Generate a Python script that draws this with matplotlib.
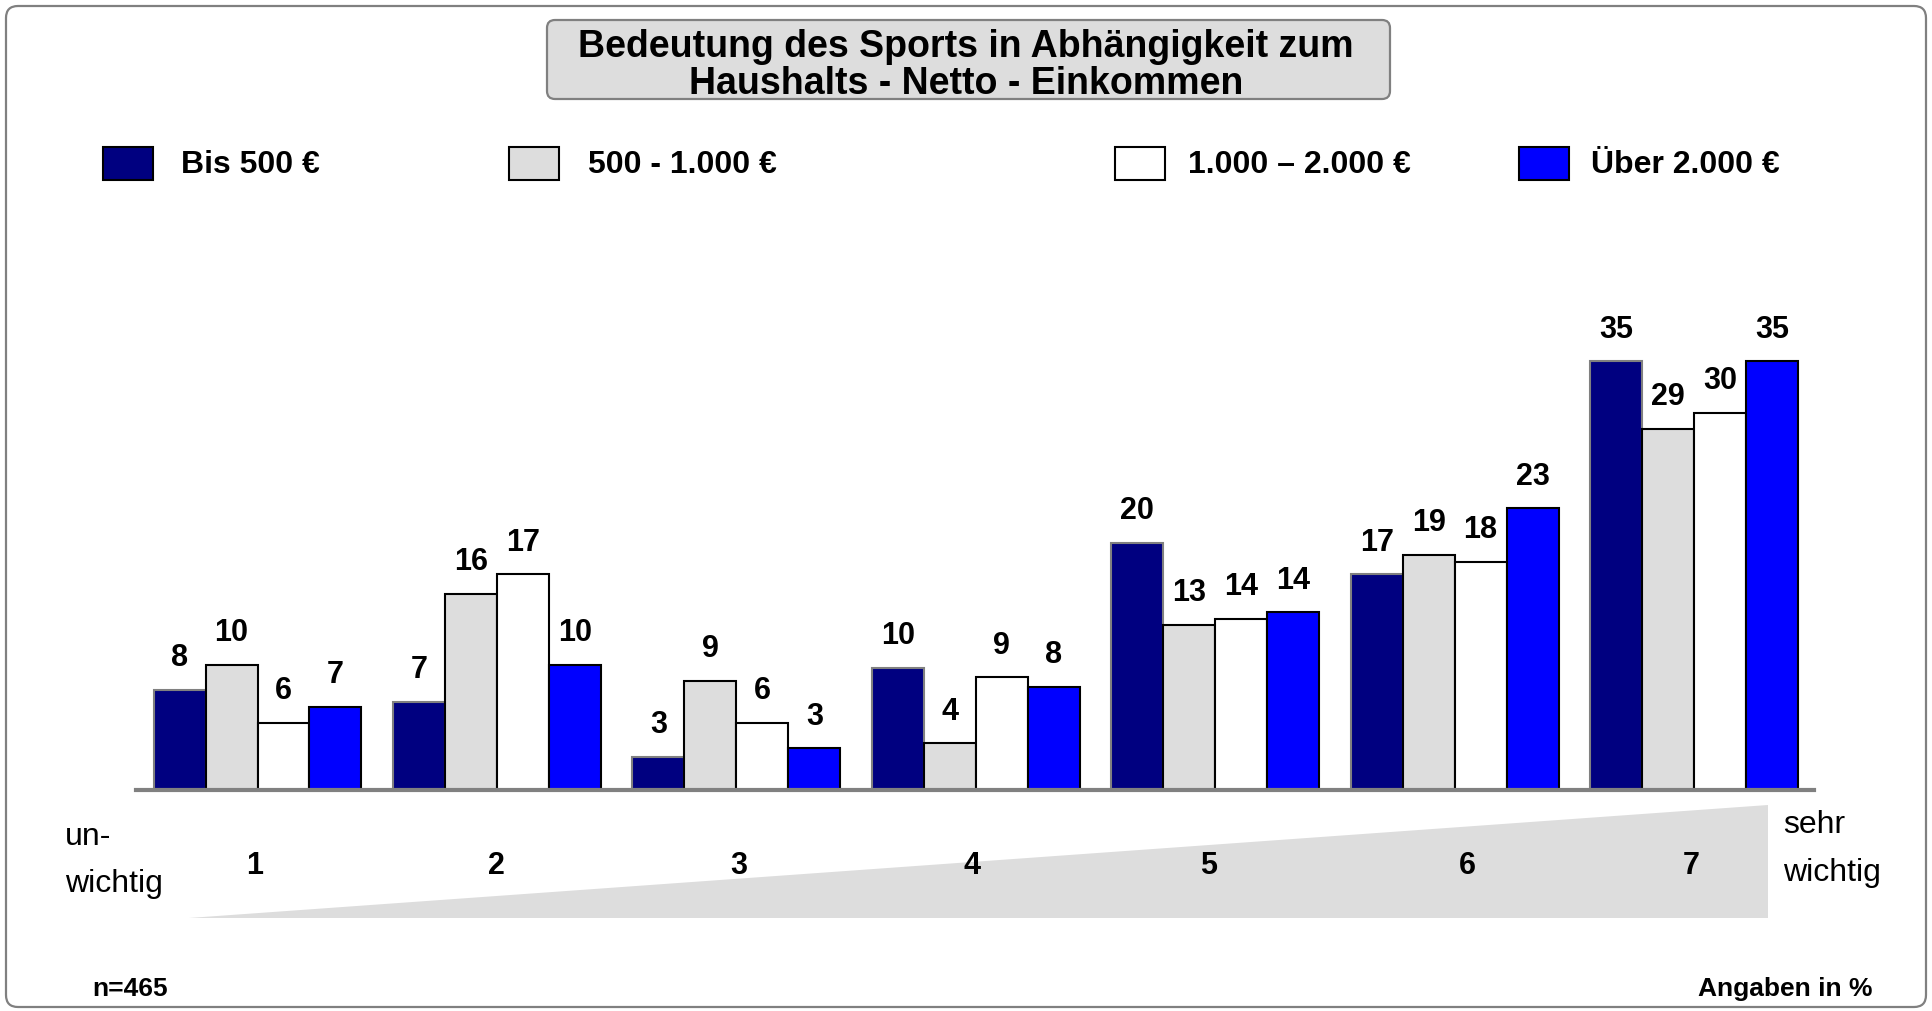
import numpy as np
import matplotlib
matplotlib.use("Agg")
import matplotlib.pyplot as plt
from matplotlib.patches import FancyBboxPatch, Rectangle, Polygon
from matplotlib.transforms import IdentityTransform

plt.rcParams['font.family'] = ['Liberation Sans', 'DejaVu Sans']

# data
categories = ['1', '2', '3', '4', '5', '6', '7']
series_names = ['Bis 500 €', '500 - 1.000 €', '1.000 – 2.000 €', 'Über 2.000 €']
bis_500 = [8.2, 7.2, 2.7, 10.0, 20.2, 17.6, 35.0]
bis_1000 = [10.2, 16.0, 8.9, 3.8, 13.5, 19.2, 29.5]
bis_2000 = [5.5, 17.6, 5.5, 9.2, 14.0, 18.6, 30.8]
ueber_2000 = [6.8, 10.2, 3.4, 8.4, 14.5, 23.0, 35.0]
labels_500 = [8, 7, 3, 10, 20, 17, 35]
labels_1000 = [10, 16, 9, 4, 13, 19, 29]
labels_2000 = [6, 17, 6, 9, 14, 18, 30]
labels_ueber = [7, 10, 3, 8, 14, 23, 35]

W, H = 1932, 1011
fig = plt.figure(figsize=(W / 100, H / 100), dpi=100)

# helper: pixel (from top-left) -> figure fraction
def fx(x):
    return x / W

def fy(y):
    return 1 - y / H

# outer frame
frame = FancyBboxPatch((6, 4), W - 12, H - 10, boxstyle="round,pad=0,rounding_size=12",
                       transform=IdentityTransform(), fc='none', ec='#808080', lw=1.6)
fig.patches.append(frame)

# title box
tbox = FancyBboxPatch((547, H - 99), 843, 79, boxstyle="round,pad=0,rounding_size=8",
                      transform=IdentityTransform(), fc='#dddddd', ec='#808080', lw=1.6)
fig.patches.append(tbox)
fig.text(fx(966), fy(47), 'Bedeutung des Sports in Abhängigkeit zum', ha='center', va='center',
         fontsize=27, fontweight='bold')
fig.text(fx(966), fy(84), 'Haushalts - Netto - Einkommen', ha='center', va='center',
         fontsize=27, fontweight='bold')

colors = ['#000080', '#dddddd', '#ffffff', '#0000ff']
edges = ['#808080', 'black', 'black', 'black']

# legend
leg_sq = [103, 509, 1115, 1519]
leg_tx = [181, 588, 1188, 1591]
for name, c, e, sx, tx in zip(series_names, colors, edges, leg_sq, leg_tx):
    fig.patches.append(Rectangle((sx, H - 180), 50, 33, transform=IdentityTransform(),
                                 fc=c, ec='black', lw=1.5))
    fig.text(fx(tx), fy(165), name, ha='left', va='center', fontsize=23, fontweight='bold')

# triangle (importance wedge)
fig.patches.append(Polygon([(189, H - 918), (1768, H - 918), (1768, H - 805)],
                           closed=True, transform=IdentityTransform(), fc='#dddddd', ec='none'))

# bars
ax = fig.add_axes([fx(136), fy(790), (1814 - 136) / W, (790 - 300) / H])
ax.set_zorder(3)
ax.patch.set_alpha(0)
x = np.arange(1, 8)
w = 0.217
series = [bis_500, bis_1000, bis_2000, ueber_2000]
labels = [labels_500, labels_1000, labels_2000, labels_ueber]
for i, (vals, labs) in enumerate(zip(series, labels)):
    pos = x + (i - 1.5) * w
    ax.bar(pos, vals, width=w, color=colors[i], edgecolor=edges[i], linewidth=1.5, zorder=2)
    for p, v, l in zip(pos, vals, labs):
        ax.annotate(str(l), (p, v), xytext=(0, 12), textcoords='offset points',
                    ha='center', va='bottom', fontsize=22, fontweight='bold')

ax.set_xlim(0.4925, 7.501)
ax.set_ylim(0, 40)
for s in ['top', 'right', 'left']:
    ax.spines[s].set_visible(False)
ax.spines['bottom'].set_color('#808080')
ax.spines['bottom'].set_linewidth(3)
ax.set_yticks([])
ax.set_xticks([])

# category numbers below the axis (small nudges in points, as in the original)
nudge = [-2, 0, 2, -3, -5, 9, -2]
for xi, c, n in zip(x, categories, nudge):
    ax.annotate(c, (xi, 0), xytext=(n, -55), textcoords='offset points',
                ha='center', va='center', fontsize=22, fontweight='bold',
                annotation_clip=False)

fig.text(fx(65), fy(837), 'un-', ha='left', va='center', fontsize=23)
fig.text(fx(65), fy(884), 'wichtig', ha='left', va='center', fontsize=23)
fig.text(fx(1783), fy(825), 'sehr', ha='left', va='center', fontsize=23)
fig.text(fx(1783), fy(873), 'wichtig', ha='left', va='center', fontsize=23)

fig.text(fx(92), fy(989), 'n=465', ha='left', va='center', fontsize=19, fontweight='bold')
fig.text(fx(1873), fy(989), 'Angaben in %', ha='right', va='center', fontsize=19, fontweight='bold')

plt.savefig('out.png', dpi=100)
